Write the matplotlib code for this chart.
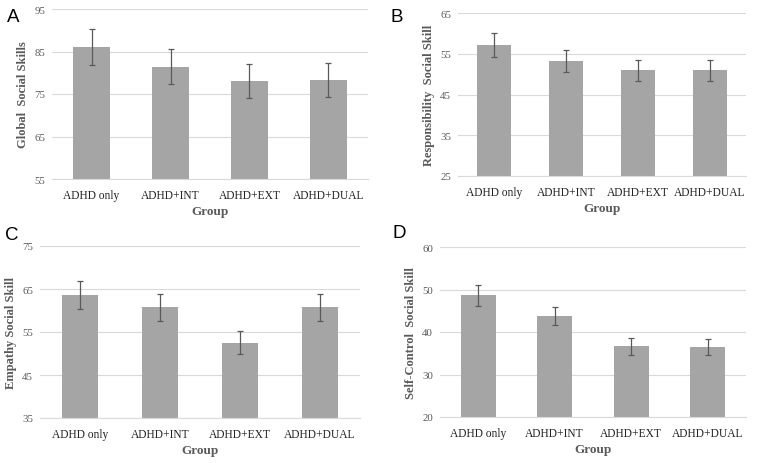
import matplotlib
matplotlib.use('Agg')
import matplotlib.pyplot as plt

groups = ['ADHD only', 'ADHD+INT', 'ADHD+EXT', 'ADHD+DUAL']

global_means = [86.1, 81.4, 78.1, 78.4]
global_err = [4.3, 4.1, 4.0, 4.0]

resp_means = [57.2, 53.1, 50.9, 50.9]
resp_err = [2.9, 2.7, 2.6, 2.6]

emp_means = [63.6, 60.7, 52.5, 60.7]
emp_err = [3.2, 3.1, 2.7, 3.1]

self_means = [48.6, 43.8, 36.6, 36.4]
self_err = [2.5, 2.2, 2.0, 1.9]

W, H = 758, 464
BAR_COLOR = '#a5a5a5'
TEXT_GRAY = '#595959'
SERIF = 'Liberation Serif'

plt.rcParams['font.family'] = SERIF

fig = plt.figure(figsize=(W / 100, H / 100), dpi=100)


def make_ax(left, right, top, bottom):
    # Pixel-Koordinaten in Figure-Koordinaten umrechnen
    return fig.add_axes([left / W, 1 - bottom / H, (right - left) / W, (bottom - top) / H])


def draw_panel(ax, means, errs, ylim, ticks, ylabel):
    x = range(len(groups))
    ax.bar(x, means, width=0.46, color=BAR_COLOR, zorder=2)
    ax.errorbar(x, means, yerr=errs, fmt='none', ecolor='#595959',
                elinewidth=0.9, capsize=2.5, capthick=0.9, zorder=3)
    ax.set_ylim(*ylim)
    ax.set_xlim(-0.5, len(groups) - 0.5)
    ax.set_yticks(ticks)
    ax.set_xticks(list(x))
    ax.set_xticklabels(groups)
    ax.grid(axis='y', color='#d9d9d9', linewidth=0.8, zorder=0)
    for s in ['top', 'right', 'left']:
        ax.spines[s].set_visible(False)
    ax.spines['bottom'].set_color('#d9d9d9')
    ax.tick_params(axis='x', length=0, labelsize=8.3, labelcolor='#222222', pad=7)
    ax.tick_params(axis='y', length=0, labelsize=7.8, labelcolor=TEXT_GRAY, pad=5)
    ax.set_xlabel('Group', fontsize=9.5, fontweight='bold', color=TEXT_GRAY, labelpad=3)
    ax.set_ylabel(ylabel, fontsize=9, fontweight='bold', color=TEXT_GRAY, labelpad=4)


ax_a = make_ax(52, 368, 10, 180)
draw_panel(ax_a, global_means, global_err, (55, 95), [55, 65, 75, 85, 95], 'Global  Social Skills')

ax_b = make_ax(458, 746, 14, 177)
draw_panel(ax_b, resp_means, resp_err, (25, 65), [25, 35, 45, 55, 65], 'Responsibility  Social Skill')

ax_c = make_ax(40, 360, 247, 419)
draw_panel(ax_c, emp_means, emp_err, (35, 75), [35, 45, 55, 65, 75], 'Empathy Social Skill')

ax_d = make_ax(440, 746, 248, 418)
draw_panel(ax_d, self_means, self_err, (20, 60), [20, 30, 40, 50, 60], 'Self-Control  Social Skill')

# Panel-Buchstaben
for letter, px, py in [('A', 7, 18), ('B', 390, 17), ('C', 5, 236), ('D', 392, 234)]:
    fig.text(px / W, 1 - py / H, letter, fontsize=13.5, family='Liberation Sans',
             ha='left', va='center', color='black')

fig.savefig('out.png', dpi=100)
